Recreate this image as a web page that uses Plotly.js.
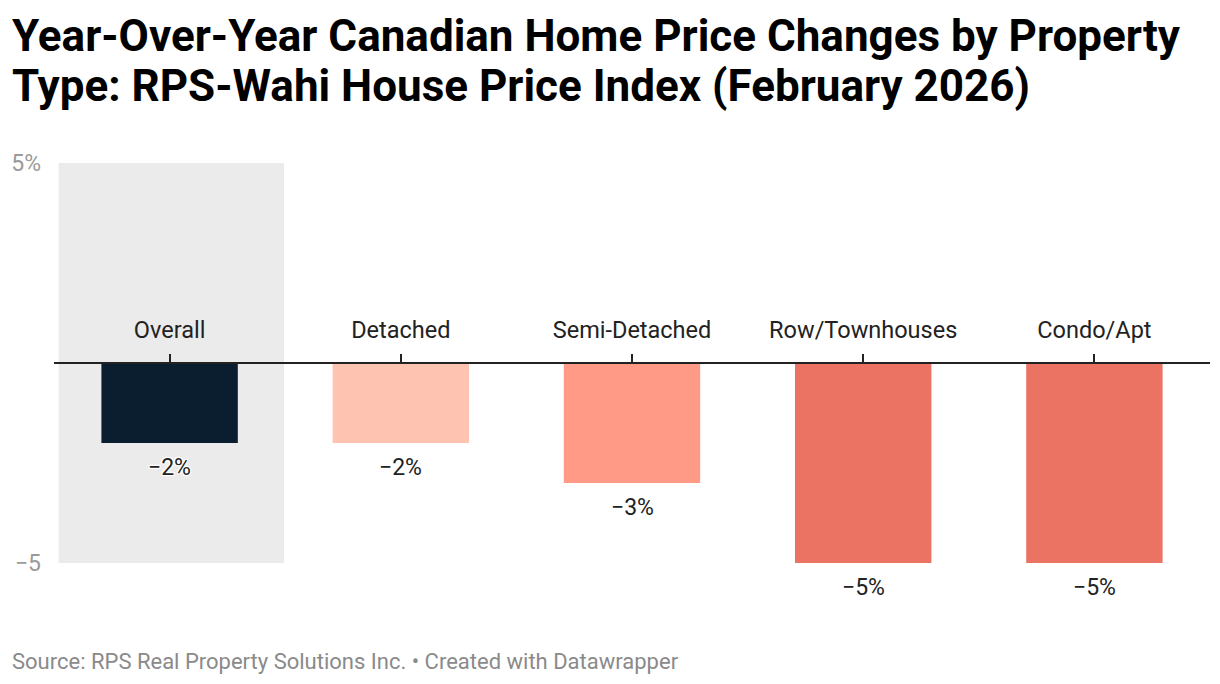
<!DOCTYPE html>
<html>
<head>
<meta charset="utf-8">
<script src="https://cdn.plot.ly/plotly-3.0.1.min.js"></script>
<style>html,body{margin:0;padding:0;background:#fff;}#chart{width:1220px;height:684px;}</style>
</head>
<body>
<div id="chart"></div>
<script>
const categories = ["Overall", "Detached", "Semi-Detached", "Row/Townhouses", "Condo/Apt"];
const values = [-2, -2, -3, -5, -5];
const barColors = ["#0b1e2f", "#ffc3b1", "#ff9a86", "#eb7363", "#eb7363"];
const yTickVals = [-5, 5];
const yTickText = ["\u22125", "5%"];
const titleLines = [
  "Year-Over-Year Canadian Home Price Changes by Property",
  "Type: RPS-Wahi House Price Index (February 2026)"
];
const sourceText = "Source: RPS Real Property Solutions Inc. \u2022 Created with Datawrapper";

function fmt(v) { return (v < 0 ? "\u2212" : "") + Math.abs(v) + "%"; }

const trace = {
  type: "bar",
  x: categories,
  y: values,
  marker: { color: barColors },
  hoverinfo: "none"
};

const halo = "1px 1px 1px #fff, -1px -1px 1px #fff, 1px -1px 1px #fff, -1px 1px 1px #fff, 0 0 3px #fff";

const valueAnnotations = categories.map((c, i) => ({
  x: c, y: values[i], xref: "x", yref: "y",
  text: fmt(values[i]), showarrow: false,
  yanchor: "top", yshift: -9,
  font: { family: "Roboto", size: 23, color: "#222", shadow: halo }
}));

const titleAnnotations = titleLines.map((t, i) => ({
  xref: "paper", yref: "paper",
  x: (10 - 54) / 1156, y: (563 - (36 + 50 * i)) / 400,
  xanchor: "left", yanchor: "middle",
  text: "<b>" + t + "</b>", showarrow: false,
  font: { family: "Roboto", size: 44, color: "#000" }
}));

const layout = {
  width: 1220, height: 684,
  margin: { l: 54, r: 10, t: 163, b: 121 },
  paper_bgcolor: "#fff", plot_bgcolor: "rgba(0,0,0,0)",
  font: { family: "Roboto" },
  showlegend: false,
  bargap: 0.41,
  xaxis: {
    type: "category",
    side: "top", anchor: "free", position: 0.5,
    ticks: "outside", ticklen: 8, tickwidth: 2, tickcolor: "#222",
    showline: true, linecolor: "#222", linewidth: 2,
    layer: "above traces",
    showgrid: false, zeroline: false,
    tickfont: { family: "Roboto", size: 23.5, color: "#222" },
    ticklabelstandoff: 7,
    range: [-0.5, 4.5]
  },
  yaxis: {
    range: [-5, 5],
    tickvals: yTickVals, ticktext: yTickText,
    showgrid: true, gridcolor: "#e3e3e3", gridwidth: 1.5,
    zeroline: false, showline: false, ticks: "",
    tickfont: { family: "Roboto", size: 23, color: "#9a9a9a" },
    ticklabelstandoff: 12
  },
  shapes: [{
    type: "rect", xref: "x", yref: "y",
    x0: -0.48, x1: 0.495, y0: -5, y1: 5,
    fillcolor: "#ebebeb", line: { width: 0 }, layer: "below"
  }],
  annotations: titleAnnotations.concat(valueAnnotations).concat([{
    xref: "paper", yref: "paper",
    x: (10 - 54) / 1156, y: (563 - 661) / 400,
    xanchor: "left", yanchor: "middle",
    text: sourceText,
    showarrow: false,
    font: { family: "Roboto", size: 22, color: "#8a8a8a" }
  }])
};

Plotly.newPlot("chart", [trace], layout, { staticPlot: true, displayModeBar: false });
</script>
</body>
</html>
